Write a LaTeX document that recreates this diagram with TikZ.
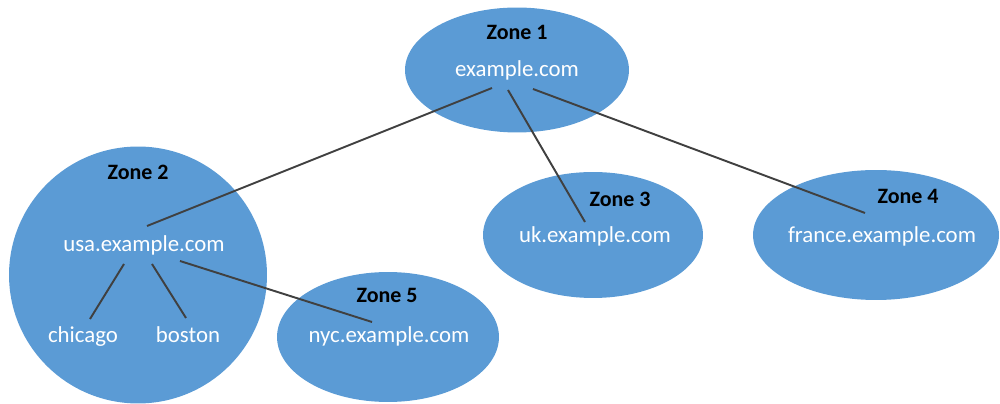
\documentclass[tikz,border=0pt]{standalone}
\usepackage{fontspec}
\setmainfont{Carlito}
\usetikzlibrary{shapes.geometric}
\definecolor{zonefill}{HTML}{5B9BD5}
\definecolor{linkgray}{HTML}{404040}
\tikzset{
	zone/.style={ellipse, fill=zonefill, inner sep=0pt},
	zonename/.style={anchor=base, font=\fontsize{12.5}{15}\selectfont\bfseries, text=black},
	hostname/.style={anchor=base, font=\fontsize{13}{15}\selectfont, text=white},
	link/.style={draw=linkgray, line width=1.1pt}
}
\begin{document}
\begin{tikzpicture}[x=0.02cm, y=-0.02cm]
	\useasboundingbox (0, 0) rectangle (1000, 404);

	% zones
	\node[zone, minimum width=4.48cm, minimum height=2.50cm] (zone1) at (517, 70) {};
	\node[zone, minimum width=5.16cm, minimum height=5.14cm] (zone2) at (138, 275) {};
	\node[zone, minimum width=4.40cm, minimum height=2.52cm] (zone3) at (593, 235) {};
	\node[zone, minimum width=4.92cm, minimum height=2.60cm] (zone4) at (876, 235) {};
	\node[zone, minimum width=4.44cm, minimum height=2.60cm] (zone5) at (388, 337) {};

	% zone names
	\node[zonename] (name1) at (517, 40) {Zone 1};
	\node[zonename] (name2) at (138, 180) {Zone 2};
	\node[zonename] (name3) at (620, 207) {Zone 3};
	\node[zonename] (name4) at (908, 204) {Zone 4};
	\node[zonename] (name5) at (387, 303) {Zone 5};

	% host names
	\node[hostname] (root) at (517, 77) {example.com};
	\node[hostname] (usa) at (144, 252) {usa.example.com};
	\node[hostname] (chicago) at (83, 343) {chicago};
	\node[hostname] (boston) at (188, 343) {boston};
	\node[hostname] (uk) at (595, 243) {uk.example.com};
	\node[hostname] (france) at (882, 243) {france.example.com};
	\node[hostname] (nyc) at (389, 343) {nyc.example.com};

	% link ends
	\coordinate (root-usa) at (492, 88);
	\coordinate (root-uk) at (508, 90);
	\coordinate (root-fr) at (533, 89);
	\coordinate (usa-top) at (147, 226);
	\coordinate (uk-top) at (585, 222);
	\coordinate (fr-top) at (865, 213);
	\coordinate (usa-chi) at (124, 264);
	\coordinate (usa-bos) at (152, 264);
	\coordinate (usa-nyc) at (180, 261);
	\coordinate (chi-top) at (90, 319);
	\coordinate (bos-top) at (186, 318);
	\coordinate (nyc-top) at (372, 322);

	% links
	\draw[link] (root-usa) -- (usa-top);
	\draw[link] (root-uk) -- (uk-top);
	\draw[link] (root-fr) -- (fr-top);
	\draw[link] (usa-chi) -- (chi-top);
	\draw[link] (usa-bos) -- (bos-top);
	\draw[link] (usa-nyc) -- (nyc-top);
\end{tikzpicture}
\end{document}
